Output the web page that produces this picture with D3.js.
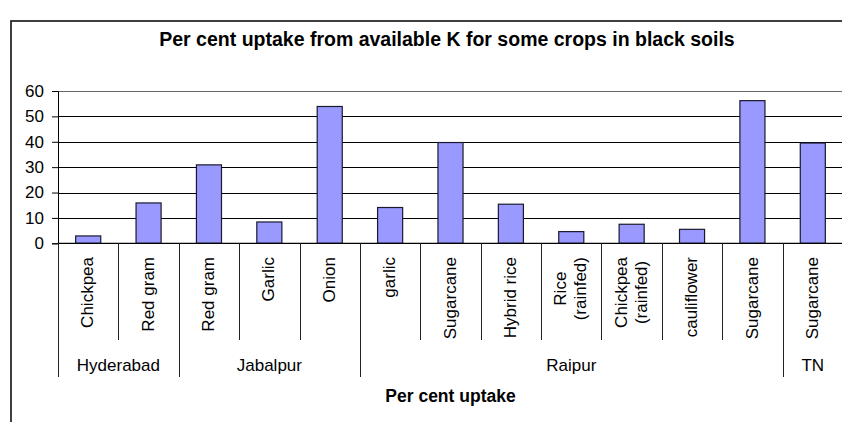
<!DOCTYPE html>
<html>
<head>
<meta charset="utf-8">
<script src="https://cdn.jsdelivr.net/npm/d3@7/dist/d3.min.js"></script>
<style>
  html, body { margin: 0; padding: 0; background: #fff; }
  svg { display: block; font-family: "Liberation Sans", Arial, sans-serif; }
</style>
</head>
<body>
<svg id="chart" width="842" height="422"></svg>
<script>
// Crops (two-line labels use "\n"), the site each belongs to, and the uptake values
const crops = [
  "Chickpea", "Red gram",
  "Red gram", "Garlic", "Onion",
  "garlic", "Sugarcane", "Hybrid rice", "Rice\n(rainfed)", "Chickpea\n(rainfed)", "cauliflower", "Sugarcane",
  "Sugarcane"
];
const sites = [
  "Hyderabad", "Hyderabad",
  "Jabalpur", "Jabalpur", "Jabalpur",
  "Raipur", "Raipur", "Raipur", "Raipur", "Raipur", "Raipur", "Raipur",
  "TN"
];
const uptake = [2.9, 15.9, 30.9, 8.4, 53.9, 14.1, 39.7, 15.4, 4.6, 7.5, 5.5, 56.2, 39.5];
const yTicks = [0, 10, 20, 30, 40, 50, 60];

const titleText = "Per cent uptake from available K for some crops in black soils";
const axisTitle = "Per cent uptake";

const svg = d3.select("#chart");

// Outer chart frame
svg.append("rect")
  .attr("x", 11).attr("y", 21)
  .attr("width", 900).attr("height", 500)
  .attr("fill", "#fff").attr("stroke", "#111").attr("stroke-width", 1.6);

const plot = { left: 58, right: 843, top: 91, bottom: 243.3 };

const x = d3.scaleBand()
  .domain(d3.range(crops.length))
  .range([plot.left, plot.right])
  .paddingInner(0).paddingOuter(0);

const y = d3.scaleLinear()
  .domain([0, 60])
  .range([plot.bottom, plot.top]);

// Title
svg.append("text")
  .attr("x", 447).attr("y", 45.5)
  .attr("text-anchor", "middle")
  .attr("font-size", 19.5).attr("font-weight", "bold")
  .attr("fill", "#000")
  .text(titleText);

// Horizontal gridlines
svg.append("g")
  .selectAll("line")
  .data(yTicks.filter(t => t > 0))
  .join("line")
  .attr("x1", plot.left).attr("x2", plot.right)
  .attr("y1", d => Math.round(y(d)) + 0.5).attr("y2", d => Math.round(y(d)) + 0.5)
  .attr("stroke", d => d === 60 ? "#666" : "#000")
  .attr("stroke-width", 1);

// Bars
const barW = x.bandwidth() * 0.415;
svg.append("g")
  .selectAll("rect")
  .data(uptake)
  .join("rect")
  .attr("x", (d, i) => x(i) + x.bandwidth() / 2 - barW / 2)
  .attr("y", d => y(d))
  .attr("width", barW)
  .attr("height", d => y(0) - y(d))
  .attr("fill", "#9999ff")
  .attr("stroke", "#1a1a2e")
  .attr("stroke-width", 1.2);

// Value axis
const yAxis = d3.axisLeft(y)
  .tickValues(yTicks)
  .tickSize(6)
  .tickPadding(8)
  .tickFormat(d3.format("d"));

const yg = svg.append("g")
  .attr("transform", `translate(${plot.left},0)`)
  .call(yAxis);
yg.select(".domain").attr("stroke", "#000");
yg.selectAll(".tick line").attr("stroke", "#000");
yg.selectAll(".tick text")
  .attr("font-size", 17)
  .attr("font-family", "Liberation Sans, Arial, sans-serif")
  .attr("fill", "#000");

// Category axis baseline
svg.append("line")
  .attr("x1", plot.left).attr("x2", plot.right)
  .attr("y1", y(0)).attr("y2", y(0))
  .attr("stroke", "#000").attr("stroke-width", 1.2);

// Group spans from consecutive sites
const groups = [];
sites.forEach((s, i) => {
  const last = groups[groups.length - 1];
  if (last && last.name === s) last.end = i;
  else groups.push({ name: s, start: i, end: i });
});

const innerBottom = 340;
const groupBottom = 377;

// Dividers between crops (short) and between sites (long)
const boundaries = d3.range(crops.length + 1);
svg.append("g")
  .selectAll("line")
  .data(boundaries)
  .join("line")
  .attr("x1", i => Math.round(plot.left + i * x.step()) + 0.5)
  .attr("x2", i => Math.round(plot.left + i * x.step()) + 0.5)
  .attr("y1", y(0))
  .attr("y2", i => (i === 0 || i === crops.length || sites[i] !== sites[i - 1]) ? groupBottom : innerBottom)
  .attr("stroke", "#222")
  .attr("stroke-width", 1);

// Rotated crop labels
const labelTop = 257;
const lineGap = 20;
const labels = svg.append("g")
  .selectAll("g")
  .data(crops)
  .join("g")
  .attr("transform", (d, i) => `translate(${x(i) + x.bandwidth() / 2},${labelTop}) rotate(-90)`);

labels.each(function (d) {
  const g = d3.select(this);
  const lines = d.split("\n");
  const n = lines.length;
  const texts = g.selectAll("text")
    .data(lines)
    .join("text")
    .attr("font-size", 17)
    .attr("fill", "#000")
    .attr("text-anchor", "middle")
    .attr("y", (t, k) => (k - (n - 1) / 2) * lineGap)
    .attr("dy", "0.3em")
    .text(t => t);
  let maxLen = 0;
  texts.each(function () { maxLen = Math.max(maxLen, this.getComputedTextLength()); });
  texts.attr("x", -maxLen / 2);
});

// Site labels
svg.append("g")
  .selectAll("text")
  .data(groups)
  .join("text")
  .attr("x", g => (x(g.start) + x(g.end) + x.bandwidth()) / 2)
  .attr("y", 370.5)
  .attr("text-anchor", "middle")
  .attr("font-size", 17)
  .attr("fill", "#000")
  .text(g => g.name);

// Axis title
svg.append("text")
  .attr("x", (plot.left + plot.right) / 2)
  .attr("y", 402)
  .attr("text-anchor", "middle")
  .attr("font-size", 17.5).attr("font-weight", "bold")
  .attr("fill", "#000")
  .text(axisTitle);
</script>
</body>
</html>
